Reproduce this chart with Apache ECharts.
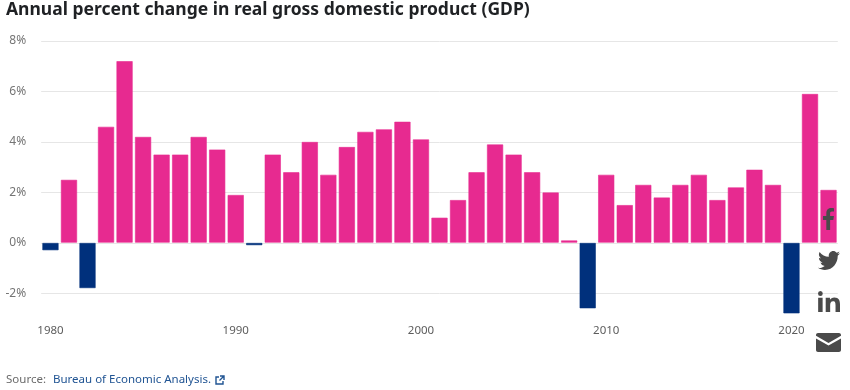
<!DOCTYPE html>
<html>
<head>
<meta charset="utf-8">
<style>
html, body { margin: 0; padding: 0; background: #fff; }
#chart { width: 850px; height: 390px; }
</style>
<script src="https://cdn.jsdelivr.net/npm/echarts@6/dist/echarts.min.js"></script>
</head>
<body>
<div id="chart"></div>
<script>
const years = []
for (let y = 1980; y <= 2022; y++) years.push(String(y))
const gdpChange = [-0.3, 2.5, -1.8, 4.6, 7.2, 4.2, 3.5, 3.5, 4.2, 3.7,
  1.9, -0.1, 3.5, 2.8, 4.0, 2.7, 3.8, 4.4, 4.5, 4.8,
  4.1, 1.0, 1.7, 2.8, 3.9, 3.5, 2.8, 2.0, 0.1, -2.6,
  2.7, 1.5, 2.3, 1.8, 2.3, 2.7, 1.7, 2.2, 2.9, 2.3,
  -2.8, 5.9, 2.1]
const titleText = 'Annual percent change in real gross domestic product (GDP)'
const sourceLabel = 'Source:'
const sourceName = 'Bureau of Economic Analysis.'

const font = '"Noto Sans", sans-serif'
const iconColor = '#4a4a4a'

const icons = [
  { x: 823, y: 208, w: 11, h: 22, path: 'M10 22V12h3.4l.6-4h-4V5.6C10 4.4 10.4 3.6 12 3.6h2.1V.2C13.7.1 12.500 0 11.200 0 8.200 0 6 1.900 6 5.200V8H2.500v4H6v10z' },
  { x: 818, y: 251, w: 22, h: 19, path: 'M24 2.400c-.9.4-1.800.7-2.800.8 1-.6 1.800-1.600 2.200-2.700-1 .6-2 1-3.100 1.200C19.300.7 18 0 16.600 0c-2.700 0-4.900 2.200-4.900 4.900 0 .4 0 .8.100 1.100C7.700 5.800 4.100 3.900 1.700.9c-.4.700-.7 1.600-.7 2.500 0 1.700.9 3.200 2.200 4.100-.8 0-1.600-.2-2.200-.6v.1c0 2.400 1.700 4.400 3.900 4.800-.4.100-.8.200-1.300.2-.3 0-.6 0-.9-.1.6 2 2.400 3.400 4.600 3.400-1.700 1.300-3.800 2.100-6.100 2.100-.4 0-.8 0-1.200-.1 2.200 1.400 4.800 2.200 7.500 2.200 9.100 0 14-7.500 14-14v-.6c1-.7 1.800-1.600 2.500-2.500z' },
  { x: 818, y: 291, w: 22, h: 21, path: 'M0 6.500h4.500V20H0zM2.250 0a2.400 2.400 0 1 1 0 4.800 2.400 2.400 0 0 1 0-4.800zM7.600 6.500h4.300v1.900c.7-1.200 2.200-2.300 4.400-2.300 4.600 0 5.700 2.800 5.700 6.700V20h-4.500v-6.400c0-1.700-.1-3.800-2.400-3.800-2.400 0-3.000 1.800-3.000 3.700V20H7.600z' },
  { x: 816, y: 333, w: 25, h: 19, path: 'M2 0h21c1.100 0 2 .9 2 2v.8L12.500 10 0 2.800V2C0 .9.900 0 2 0zM0 5.400l12.500 7.200L25 5.400V17c0 1.100-.9 2-2 2H2c-1.100 0-2-.9-2-2z' }
]
const linkIcon = 'M4 2H1v7h7V6M5 1h4v4M9 1L4.500 5.500'

function renderIcons() {
  let children = icons.map(function (ic) {
    return {
      type: 'path',
      shape: { pathData: ic.path, layout: 'cover', x: ic.x, y: ic.y, width: ic.w, height: ic.h },
      style: { fill: iconColor }
    }
  })
  // external link icon next to the source
  children.push({
    type: 'path',
    shape: { pathData: linkIcon, layout: 'cover', x: 216, y: 376, width: 8, height: 8 },
    style: { fill: 'none', stroke: '#205493', lineWidth: 1.4 }
  })
  return { type: 'group', children: children }
}

let barData = gdpChange.map(function (v) {
  return {
    value: v,
    itemStyle: v < 0
      ? { color: '#00307c', borderColor: 'rgba(0,48,124,0.6)', borderWidth: 1 }
      : { color: '#e72a90', borderColor: 'rgba(231,42,144,0.6)', borderWidth: 1 }
  }
})

let myChart = echarts.init(document.getElementById('chart'), null, { renderer: 'canvas' })
let option = {
  animation: false,
  backgroundColor: '#fff',
  title: {
    text: titleText,
    left: 6,
    top: 1,
    padding: 0,
    textStyle: { fontFamily: font, fontSize: 17.5, fontWeight: 'bold', color: '#1f2124' }
  },
  grid: { left: 41.2, right: 12.2, top: 40.8, bottom: 46.2 },
  xAxis: {
    type: 'category',
    data: years,
    axisLine: { show: false },
    axisTick: { show: false },
    axisLabel: {
      interval: 9,
      margin: -19,
      fontFamily: font,
      fontSize: 11.5,
      color: '#5d5d5d',
      hideOverlap: false
    }
  },
  yAxis: {
    type: 'value',
    min: -4,
    max: 8,
    interval: 2,
    axisLine: { show: false },
    axisTick: { show: false },
    splitLine: { showMinLine: false, lineStyle: { color: '#e6e6e6', width: 1 } },
    axisLabel: {
      showMinLabel: false,
      margin: 15,
      fontFamily: font,
      fontSize: 12,
      color: '#757575',
      formatter: '{value}%'
    }
  },
  series: [{
    type: 'bar',
    barWidth: 16.5,
    data: barData
  }, {
    type: 'custom',
    coordinateSystem: 'none',
    silent: true,
    z: 20,
    data: [0],
    renderItem: renderIcons
  }],
  graphic: [
    { type: 'text', left: 6, top: 374, style: { text: sourceLabel, font: '11.5px ' + font, fill: '#6b6b6b' } },
    { type: 'text', left: 53, top: 374, style: { text: sourceName, font: '11.5px ' + font, fill: '#205493' } }
  ]
}
myChart.setOption(option)
window.addEventListener('resize', function () {
  myChart.resize()
})
</script>
</body>
</html>
